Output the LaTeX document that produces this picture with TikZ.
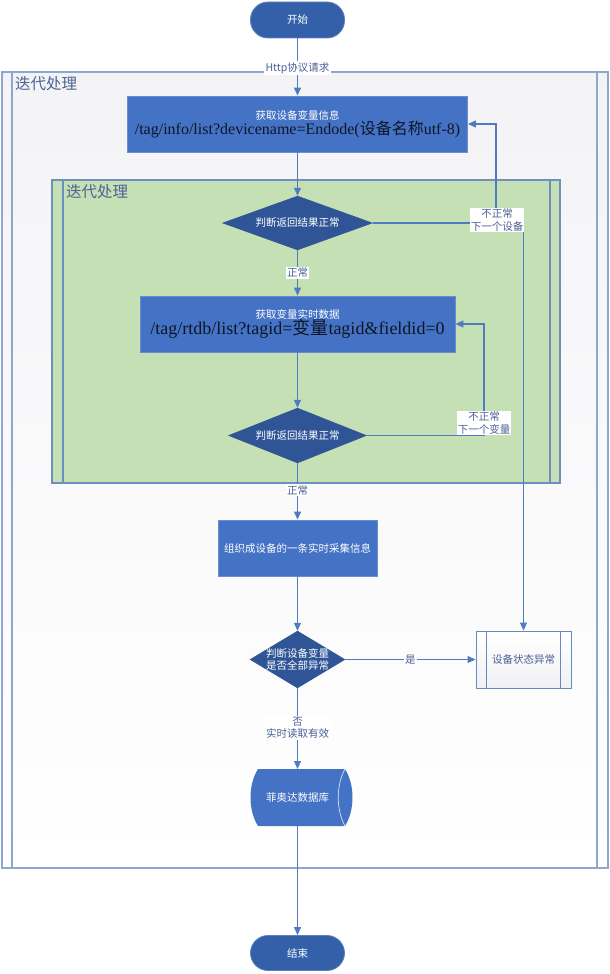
\documentclass[tikz,border=0pt]{standalone}
\usepackage{fontspec}
\setmainfont{Noto Sans CJK SC}
\newfontfamily\tnr{Liberation Serif}
\newfontfamily\cjkfont{Noto Sans CJK SC}
\usetikzlibrary{arrows.meta,shapes.geometric,calc}
\definecolor{boxblue}{HTML}{4472C4}
\definecolor{darkblue}{HTML}{2F5597}
\definecolor{termblue}{HTML}{3460AA}
\definecolor{lineblue}{HTML}{4F7CC0}
\definecolor{framec}{HTML}{8FA6CF}
\definecolor{greenf}{HTML}{C5E0B4}
\definecolor{greenb}{HTML}{6F8FBF}
\definecolor{labc}{HTML}{4A5F95}
\definecolor{titlec}{HTML}{4C6494}
\definecolor{urlc}{HTML}{0E1626}
\tikzset{
  x=1pt,y=-1pt,
  stdtext/.style={font=\fontsize{10.5}{13}\selectfont},
  procbox/.style={draw=boxblue!80!white,fill=boxblue,line width=0.8pt,inner sep=0pt,align=center,text=white,stdtext},
  termbox/.style={draw=termblue!80!white,fill=termblue,line width=0.8pt,rounded corners=17.5pt,inner sep=0pt,text=white,stdtext},
  decbox/.style={diamond,draw=darkblue,fill=darkblue,inner sep=0pt},
  dectext/.style={text=white,align=center,stdtext},
  conn/.style={draw=lineblue,line width=1.1pt,-{Triangle[length=8pt,width=7pt]}},
  plainconn/.style={draw=lineblue,line width=1.1pt},
  lab/.style={fill=white,text=labc,align=center,inner sep=1.2pt,font=\fontsize{10.5}{12.5}\selectfont},
  titletext/.style={text=titlec,anchor=west,inner sep=0pt,font=\fontsize{15.5}{17}\selectfont},
}
\begin{document}
\begin{tikzpicture}
\useasboundingbox (0,0) rectangle (610,974);
\fill[white] (0,0) rectangle (610,974);
% outer frame
\shade[top color=blue!14!gray!8!white,bottom color=white] (2,72) rectangle (608,868);
\draw[framec,line width=1.4pt] (2,72) rectangle (608,868);
\draw[framec,line width=1.2pt] (12,72) -- (12,868);
\draw[framec,line width=1.2pt] (597,72) -- (597,868);
\node[titletext] (t1) at (15,84) {迭代处理};
% green frame
\fill[greenf] (52,180) rectangle (560,483);
\draw[greenb,line width=1.2pt] (52,180) rectangle (560,483);
\draw[greenb,line width=1.1pt] (63,180) -- (63,483);
\draw[greenb,line width=1.1pt] (550,180) -- (550,483);
\node[titletext] (t2) at (66,192) {迭代处理};

% nodes
\node[termbox,minimum width=94pt,minimum height=36pt] (start) at (297.5,20) {开始};
\node[procbox,minimum width=340pt,minimum height=56pt] (b1) at (297.5,124)
  {获取设备变量信息\\[0pt]{\color{urlc}\fontsize{16}{18}\selectfont\tnr /tag/info/list?devicename=Endode(\cjkfont 设备名称\tnr utf-8)}};
\node[decbox,minimum width=150pt,minimum height=54pt] (d1) at (297.5,223) {};
\node[dectext] (d1t) at (d1) {判断返回结果正常};
\node[procbox,minimum width=315pt,minimum height=56pt] (b2) at (297.5,324)
  {获取变量实时数据\\[-1pt]{\color{urlc}\fontsize{18}{20}\selectfont\tnr /tag/rtdb/list?tagid=\cjkfont 变量\tnr tagid\&fieldid=0}};
\node[decbox,minimum width=138pt,minimum height=55pt] (d2) at (297.5,435.5) {};
\node[dectext] (d2t) at (d2) {判断返回结果正常};
\node[procbox,minimum width=159pt,minimum height=56pt] (b3) at (297.5,548) {组织成设备的一条实时采集信息};
\node[decbox,minimum width=95pt,minimum height=57pt] (d3) at (297.5,659.5) {};
\node[dectext,font=\fontsize{10.5}{12}\selectfont] (d3t) at (d3) {判断设备变量\\是否全部异常};
\node[draw=greenb!80!boxblue,line width=1pt,top color=white,bottom color=blue!10!gray!10!white,minimum width=95pt,minimum height=57pt,inner sep=0pt,text=labc,stdtext] (b4) at (523.5,659.5) {设备状态异常};
\draw[draw=greenb!80!boxblue,line width=0.9pt] ($(b4.north west)+(11,0)$) -- ($(b4.south west)+(11,0)$);
\draw[draw=greenb!80!boxblue,line width=0.9pt] ($(b4.north east)+(-11,0)$) -- ($(b4.south east)+(-11,0)$);
% database shape
\node[inner sep=0pt,minimum width=94pt,minimum height=57pt] (db) at (300,797.5) {};
\fill[boxblue] (258,769) -- (345,769) .. controls (355,785) and (355,810) .. (345,826) -- (258,826)
  .. controls (248,810) and (248,785) .. (258,769) -- cycle;
\draw[white!80!boxblue,line width=0.7pt] (345,769) .. controls (336,785) and (336,810) .. (345,826);
\node[inner sep=0pt,text=white,stdtext] (dbt) at (297.5,797.5) {菲奥达数据库};
\node[termbox,minimum width=94pt,minimum height=35pt] (end) at (297.5,953) {结束};

% connectors
\draw[conn] (start) -- node[lab,pos=0.52] (l0) {Http协议请求} (b1);
\draw[conn] (b1) -- (d1);
\draw[conn] (d1) -- node[lab,pos=0.5] (l1) {正常} (b2);
\coordinate (c1) at (496,223);
\draw[plainconn] (d1.east) -- (c1);
\draw[conn] (c1) |- (b1.east);
\draw[conn] (d1.east) -| (b4.north);
\node[lab,inner sep=1pt] (l2) at (497,220) {不正常\\下一个设备};
\draw[conn] (b2) -- (d2);
\coordinate (c2) at (484,435.5);
\draw[conn] (d2.east) -- (c2) |- (b2.east);
\node[lab] (l3) at (484,423) {不正常\\下一个变量};
\draw[conn] (d2) -- node[lab,pos=0.48] (l4) {正常} (b3);
\draw[conn] (b3) -- (d3);
\draw[conn] (d3) -- node[lab,pos=0.5] (l5) {是} (b4);
\coordinate (dbtop) at (297.5,769);
\draw[conn] (d3.south) -- node[lab,pos=0.49] (l6) {否\\实时读取有效} (dbtop);
\coordinate (dbbot) at (297.5,826);
\draw[conn] (dbbot) -- (end);
\end{tikzpicture}
\end{document}
